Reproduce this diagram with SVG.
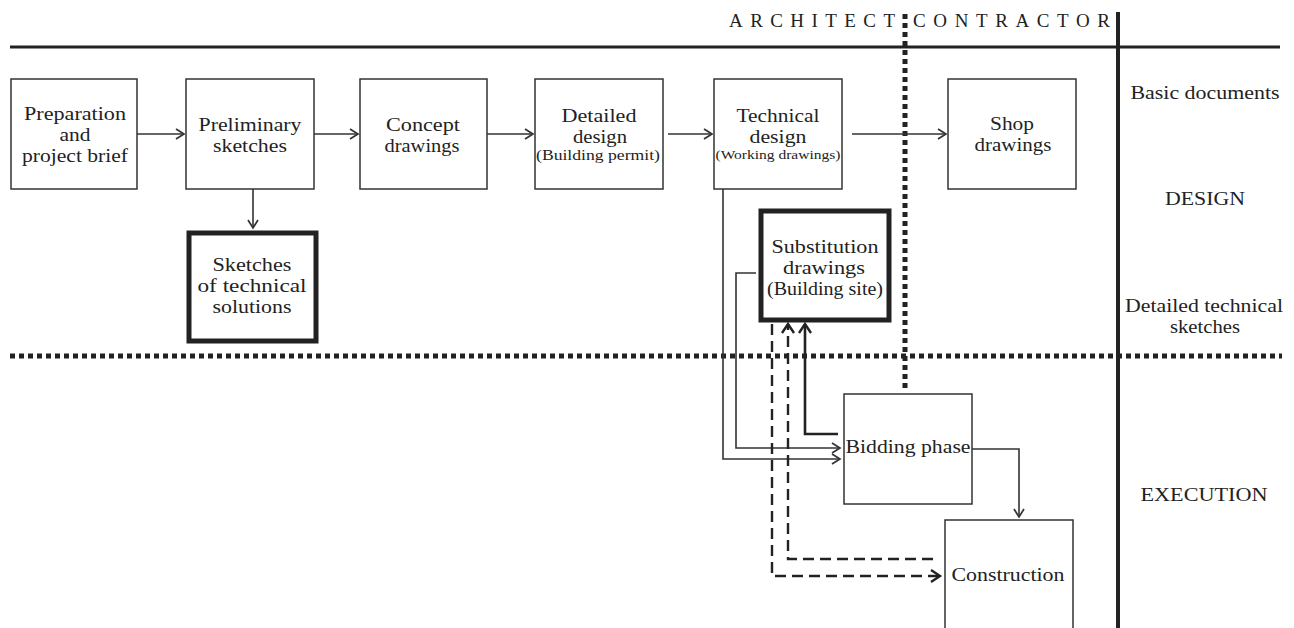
<svg xmlns="http://www.w3.org/2000/svg" width="1294" height="628" viewBox="0 0 1294 628">
<style>
text{font-family:"Liberation Serif","Times New Roman",serif;fill:#222;text-anchor:middle}
.n{font-size:18.5px}
.s{font-size:14px}
.xs{font-size:12.5px}
.lab{font-size:18px}
.box{fill:#fff;stroke:#333;stroke-width:1.5}
.tbox{fill:#fff;stroke:#222;stroke-width:5}
.c{fill:none;stroke:#333;stroke-width:1.6}
.ct{fill:none;stroke:#222;stroke-width:2.6}
.cd{fill:none;stroke:#222;stroke-width:2.4;stroke-dasharray:11,6}
</style>
<defs>
<marker id="a" markerWidth="12" markerHeight="12" refX="9" refY="6" orient="auto" markerUnits="userSpaceOnUse">
<path d="M1,1 L9,6 L1,11" fill="none" stroke="#333" stroke-width="1.7"/>
</marker>
<marker id="at" markerWidth="14" markerHeight="14" refX="10" refY="7" orient="auto" markerUnits="userSpaceOnUse">
<path d="M1,1 L10,7 L1,13" fill="none" stroke="#222" stroke-width="2.4"/>
</marker>
</defs>
<rect width="1294" height="628" fill="#fff"/>
<g id="frame">
<line x1="10" y1="47" x2="1280" y2="47" stroke="#222" stroke-width="3"/>
<line x1="1118" y1="12" x2="1118" y2="628" stroke="#222" stroke-width="4"/>
<line x1="905" y1="14" x2="905" y2="392" stroke="#222" stroke-width="5" stroke-dasharray="5,4"/>
<line x1="10" y1="356" x2="1282" y2="356" stroke="#222" stroke-width="5" stroke-dasharray="5,4"/>
<text x="729" y="27" style="font-size:19px;text-anchor:start" textLength="166" lengthAdjust="spacing">ARCHITECT</text>
<text x="913" y="27" style="font-size:19px;text-anchor:start" textLength="197" lengthAdjust="spacing">CONTRACTOR</text>
<text class="lab" x="1205" y="99" textLength="149" lengthAdjust="spacingAndGlyphs">Basic documents</text>
<text class="lab" x="1205" y="205" textLength="80" lengthAdjust="spacingAndGlyphs">DESIGN</text>
<text class="lab" x="1204" y="312" textLength="158" lengthAdjust="spacingAndGlyphs">Detailed technical</text>
<text class="lab" x="1205" y="333" textLength="70" lengthAdjust="spacingAndGlyphs">sketches</text>
<text class="lab" x="1204" y="501" textLength="127" lengthAdjust="spacingAndGlyphs">EXECUTION</text>
</g>
<g id="connectors">
<line class="c" x1="137" y1="134" x2="184" y2="134" marker-end="url(#a)"/>
<line class="c" x1="314" y1="134" x2="358" y2="134" marker-end="url(#a)"/>
<line class="c" x1="487" y1="134" x2="533" y2="134" marker-end="url(#a)"/>
<line class="c" x1="668" y1="134" x2="712" y2="134" marker-end="url(#a)"/>
<line class="c" x1="852" y1="134" x2="946" y2="134" marker-end="url(#a)"/>
<line class="c" x1="253" y1="189" x2="253" y2="228" marker-end="url(#a)"/>
<polyline class="c" points="723,189 723,459 840,459" marker-end="url(#a)"/>
<polyline class="c" points="756,273 736,273 736,448 840,448" marker-end="url(#a)"/>
<polyline class="ct" points="838,434 805,434 805,324" marker-end="url(#at)"/>
<polyline class="cd" points="772,324 772,576 940,576" marker-end="url(#at)"/>
<polyline class="cd" points="933,559 788,559 788,324" marker-end="url(#at)"/>
<polyline class="c" points="972,449 1019,449 1019,517" marker-end="url(#a)"/>
</g>
<g id="n1"><rect class="box" x="11" y="79" width="126" height="110"/>
<text class="n" x="75" y="120" textLength="102" lengthAdjust="spacingAndGlyphs">Preparation</text><text class="n" x="75" y="141" textLength="31" lengthAdjust="spacingAndGlyphs">and</text><text class="n" x="75" y="162" textLength="106" lengthAdjust="spacingAndGlyphs">project brief</text></g>
<g id="n2"><rect class="box" x="186" y="79" width="128" height="110"/>
<text class="n" x="250" y="131" textLength="103" lengthAdjust="spacingAndGlyphs">Preliminary</text><text class="n" x="250" y="152" textLength="74" lengthAdjust="spacingAndGlyphs">sketches</text></g>
<g id="n3"><rect class="box" x="360" y="79" width="127" height="110"/>
<text class="n" x="423" y="131" textLength="74" lengthAdjust="spacingAndGlyphs">Concept</text><text class="n" x="422" y="152" textLength="75" lengthAdjust="spacingAndGlyphs">drawings</text></g>
<g id="n4"><rect class="box" x="535" y="79" width="128" height="110"/>
<text class="n" x="599" y="122" textLength="75" lengthAdjust="spacingAndGlyphs">Detailed</text><text class="n" x="600" y="143" textLength="54" lengthAdjust="spacingAndGlyphs">design</text><text class="s" x="598" y="160" textLength="124" lengthAdjust="spacingAndGlyphs">(Building permit)</text></g>
<g id="n5"><rect class="box" x="714" y="79" width="128" height="110"/>
<text class="n" x="778" y="122" textLength="83" lengthAdjust="spacingAndGlyphs">Technical</text><text class="n" x="778" y="143" textLength="57" lengthAdjust="spacingAndGlyphs">design</text><text class="xs" x="778" y="159" textLength="125" lengthAdjust="spacingAndGlyphs">(Working drawings)</text></g>
<g id="n6"><rect class="box" x="948" y="79" width="128" height="110"/>
<text class="n" x="1012" y="130" textLength="44" lengthAdjust="spacingAndGlyphs">Shop</text><text class="n" x="1013" y="151" textLength="77" lengthAdjust="spacingAndGlyphs">drawings</text></g>
<g id="n7"><rect class="tbox" x="189" y="233" width="127" height="108"/>
<text class="n" x="252" y="271" textLength="79" lengthAdjust="spacingAndGlyphs">Sketches</text><text class="n" x="252" y="292" textLength="109" lengthAdjust="spacingAndGlyphs">of technical</text><text class="n" x="252" y="313" textLength="79" lengthAdjust="spacingAndGlyphs">solutions</text></g>
<g id="n8"><rect class="tbox" x="761" y="211" width="128" height="109"/>
<text class="n" x="825" y="253" textLength="107" lengthAdjust="spacingAndGlyphs">Substitution</text><text class="n" x="824" y="274" textLength="82" lengthAdjust="spacingAndGlyphs">drawings</text><text class="n" x="825" y="295" textLength="116" lengthAdjust="spacingAndGlyphs">(Building site)</text></g>
<g id="n9"><rect class="box" x="844" y="394" width="128" height="110"/>
<text class="n" x="908" y="453" textLength="125" lengthAdjust="spacingAndGlyphs">Bidding phase</text></g>
<g id="n10"><rect class="box" x="945" y="520" width="128" height="112"/>
<text class="n" x="1008" y="581" textLength="113" lengthAdjust="spacingAndGlyphs">Construction</text></g>
</svg>
